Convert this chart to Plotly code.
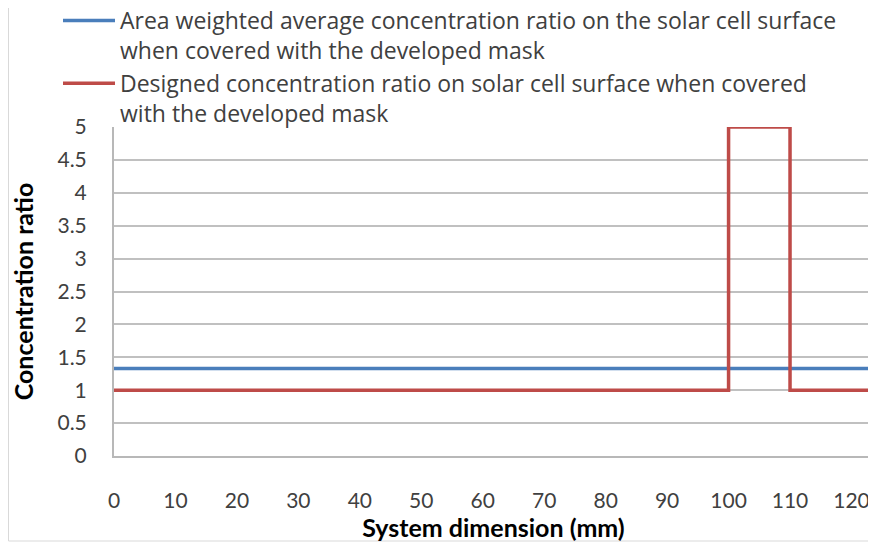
import plotly.graph_objects as go

# Data
avg_name = "Area weighted average concentration ratio on the solar cell surface<br>when covered with the developed mask"
design_name = "Designed concentration ratio on solar cell surface when covered<br>with the developed mask"

avg_x = [0, 123.5]
avg_y = [1.33, 1.33]

design_x = [0, 100, 100, 110, 110, 123.5]
design_y = [1, 1, 5, 5, 1, 1]

x_ticks = [0, 10, 20, 30, 40, 50, 60, 70, 80, 90, 100, 110, 120]
y_ticks = [0, 0.5, 1, 1.5, 2, 2.5, 3, 3.5, 4, 4.5, 5]

FONT = "Lato"
TXT = "#404040"

# the page adds an 8px body margin, so the figure is sized to fit the window
W, H = 868, 536
L, R, T, B = 106, 3, 119, 88
PW, PH = W - L - R, H - T - B

fig = go.Figure()
fig.add_trace(go.Scatter(x=avg_x, y=avg_y, mode="lines", name=avg_name,
                         line=dict(color="#4A7EBB", width=3.5)))
fig.add_trace(go.Scatter(x=design_x, y=design_y, mode="lines", name=design_name,
                         line=dict(color="#BE4B48", width=3.5)))

# chart frame (light border as in the reference)
fig.add_shape(type="rect", xref="paper", yref="paper",
              x0=(0.5 - L) / PW, x1=(W - 1 - L) / PW,
              y0=(H - B - (H - 3)) / PH, y1=(H - B + 20) / PH,
              line=dict(color="#D9D9D9", width=1), fillcolor="rgba(0,0,0,0)", layer="below")

fig.update_layout(
    width=W, height=H,
    margin=dict(l=L, r=R, t=T, b=B, autoexpand=False),
    paper_bgcolor="white", plot_bgcolor="white",
    font=dict(family=FONT, color=TXT, size=21),
    showlegend=True,
    legend=dict(x=(50 - L) / PW, y=1 + (T + 9) / PH, xanchor="left", yanchor="top",
                valign="top", font=dict(size=23, color=TXT, family="Open Sans"),
                itemwidth=52, tracegroupgap=0, bgcolor="rgba(0,0,0,0)"),
    xaxis=dict(range=[0, 123.5], tickvals=x_ticks, ticktext=[str(v) for v in x_ticks],
               showgrid=False, zeroline=False, showline=True, linecolor="#B8B8B8",
               linewidth=2, ticks="", ticklabelstandoff=25, automargin=False,
               tickfont=dict(size=21, color=TXT),
               title=dict(text="<b>System dimension (mm)</b>", standoff=6,
                          font=dict(size=25, color="#000000"))),
    yaxis=dict(range=[0, 5], tickvals=y_ticks, ticktext=[f"{v:g}" for v in y_ticks],
               showgrid=True, gridcolor="#C0C0C0", gridwidth=1.5, zeroline=False,
               showline=True, linecolor="#B8B8B8", linewidth=2, ticks="",
               ticklabelstandoff=21, automargin=False, tickfont=dict(size=21, color=TXT),
               title=dict(text="<b>Concentration ratio</b>", standoff=24,
                          font=dict(size=25, color="#000000"))),
)

fig.write_html("out.html")
